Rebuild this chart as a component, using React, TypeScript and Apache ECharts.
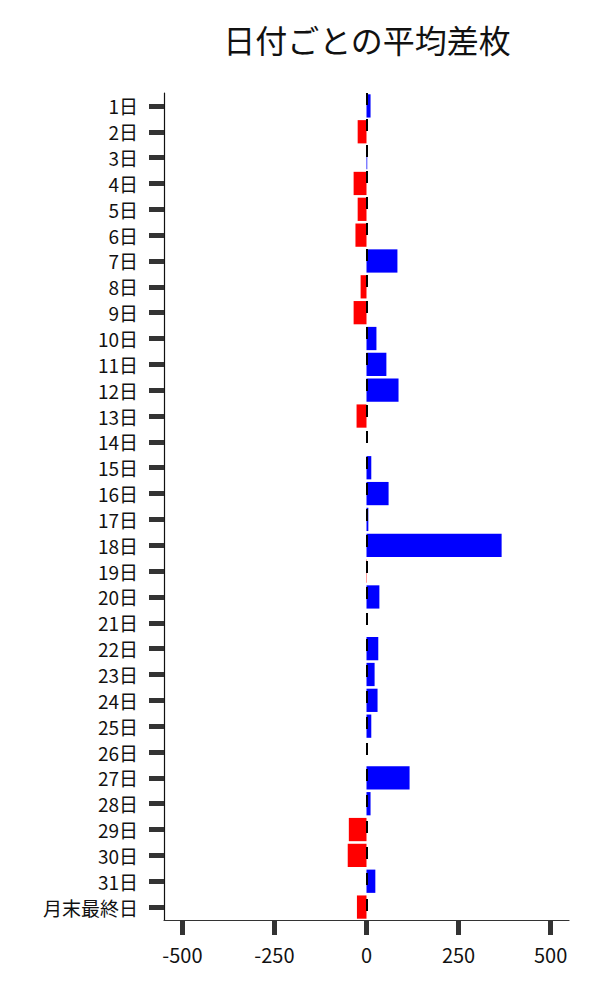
import React, { useEffect, useRef } from "react";
import * as echarts from "echarts";

const categories = [
  "1日", "2日", "3日", "4日", "5日", "6日", "7日", "8日", "9日", "10日",
  "11日", "12日", "13日", "14日", "15日", "16日", "17日", "18日", "19日", "20日",
  "21日", "22日", "23日", "24日", "25日", "26日", "27日", "28日", "29日", "30日",
  "31日", "月末最終日",
];
const values = [
  11, -24, 2, -35, -24, -30, 84, -16, -35, 27,
  54, 87, -27, 0, 13, 60, 5, 367, -1, 35,
  0, 32, 22, 30, 13, 0, 117, 11, -48, -51,
  24, -26,
];
const xTicks = [-500, -250, 0, 250, 500];
const titleText = "日付ごとの平均差枚";

export default function App() {
  const ref = useRef<HTMLDivElement>(null);
  useEffect(() => {
    if (!ref.current) return;
    const chart = echarts.init(ref.current, null, { renderer: "svg" });
    const font = "'Noto Sans CJK JP', 'Noto Sans', sans-serif";
    chart.setOption({
      animation: false,
      backgroundColor: "#ffffff",
      title: {
        text: titleText,
        left: 362,
        top: 18,
        textAlign: "center",
        textStyle: { fontFamily: font, fontSize: 32, fontWeight: "normal", color: "#111" },
      },
      grid: { left: 164, right: 31, top: 93, bottom: 80, containLabel: false },
      xAxis: {
        type: "value",
        min: -550,
        max: 550,
        interval: 250,
        axisLine: { show: true, onZero: false, lineStyle: { color: "#333", width: 1.2 } },
        axisTick: {
          show: true,
          inside: false,
          length: 15,
          lineStyle: { color: "#333", width: 5 },
          customValues: xTicks,
        },
        axisLabel: {
          fontFamily: font,
          fontSize: 20,
          color: "#111",
          margin: 24,
          customValues: xTicks,
          formatter: (v: number) => String(v),
        },
        splitLine: { show: false },
      },
      yAxis: {
        type: "category",
        data: categories,
        inverse: true,
        axisLine: { show: true, onZero: false, lineStyle: { color: "#111", width: 1.2 } },
        axisTick: {
          show: true,
          inside: false,
          alignWithLabel: true,
          interval: 0,
          length: 15,
          lineStyle: { color: "#333", width: 5 },
        },
        axisLabel: {
          fontFamily: font,
          fontSize: 19,
          lineHeight: 19,
          color: "#111",
          margin: 26,
          interval: 0,
          hideOverlap: false,
        },
      },
      series: [
        {
          type: "bar",
          barCategoryGap: "10%",
          data: values.map((v) => ({
            value: v,
            itemStyle: { color: v < 0 ? "#ff0000" : "#0000ff" },
          })),
          markLine: {
            silent: true,
            symbol: "none",
            label: { show: false },
            lineStyle: { color: "#000", type: [12, 14], width: 2 },
            data: [{ xAxis: 0 }],
          },
        },
      ],
    });
    return () => chart.dispose();
  }, []);
  return <div ref={ref} style={{ width: 600, height: 1000, margin: -8 }} />;
}
